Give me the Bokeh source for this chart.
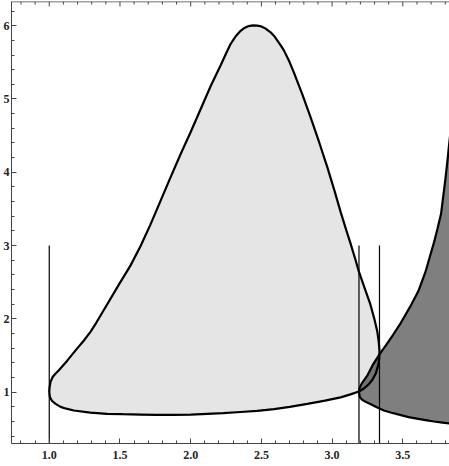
import numpy as np
from bokeh.plotting import figure
from bokeh.models import FixedTicker, PrintfTickFormatter, Span
from bokeh.embed import file_html
from bokeh.resources import INLINE

# Light region (closed curve, clockwise from left tip)
light_x = [1.000, 1.002, 1.009, 1.025, 1.045, 1.068, 1.127, 1.186, 1.245, 1.29, 1.33, 1.37,
           1.41, 1.49, 1.575,
           1.645, 1.716, 1.78, 1.846, 1.929, 2.00, 2.07, 2.14, 2.212, 2.25, 2.282, 2.32,
           2.353, 2.38, 2.41, 2.44, 2.47, 2.50, 2.53, 2.565, 2.59, 2.612, 2.64, 2.66,
           2.70, 2.73, 2.79, 2.848, 2.91, 2.966, 3.015, 3.06, 3.10, 3.13, 3.16, 3.19,
           3.23, 3.27, 3.30, 3.32, 3.330, 3.335, 3.333, 3.327, 3.31, 3.285, 3.26, 3.225,
           3.19, 3.13, 3.06, 2.95, 2.825, 2.70, 2.59, 2.47, 2.353, 2.23, 2.117, 2.00,
           1.88, 1.76, 1.646, 1.52, 1.41, 1.29, 1.174, 1.12, 1.08, 1.045, 1.02, 1.005, 1.000]
light_y = [1.00, 1.06, 1.14, 1.21, 1.255, 1.30, 1.43, 1.57, 1.705, 1.82, 1.94, 2.07,
           2.20, 2.46, 2.73,
           2.99, 3.29, 3.58, 3.88, 4.25, 4.55, 4.86, 5.17, 5.46, 5.62, 5.75, 5.86,
           5.93, 5.97, 5.995, 6.005, 6.00, 5.99, 5.96, 5.91, 5.86, 5.80, 5.72, 5.66,
           5.50, 5.36, 5.06, 4.75, 4.40, 4.07, 3.76, 3.46, 3.21, 3.03, 2.84, 2.64,
           2.42, 2.20, 1.99, 1.82, 1.68, 1.56, 1.46, 1.38, 1.26, 1.17, 1.11, 1.05,
           1.01, 0.97, 0.93, 0.885, 0.84, 0.80, 0.77, 0.745, 0.73, 0.715, 0.705, 0.695,
           0.69, 0.69, 0.695, 0.70, 0.705, 0.72, 0.75, 0.775, 0.80, 0.84, 0.88, 0.93, 1.00]

# Dark region: upper branch (from right edge down to tip) then lower branch
dark_upper_x = [3.84, 3.83, 3.815, 3.80, 3.785, 3.77, 3.745, 3.72, 3.69, 3.66, 3.61, 3.55,
                3.484, 3.43, 3.38, 3.336, 3.29, 3.25, 3.21, 3.195, 3.19]
dark_upper_y = [4.60, 4.43, 4.15, 3.89, 3.66, 3.43, 3.23, 3.04, 2.84, 2.64, 2.38, 2.16,
                1.94, 1.78, 1.64, 1.52, 1.38, 1.23, 1.12, 1.06, 1.00]
dark_lower_x = [3.19, 3.195, 3.21, 3.24, 3.27, 3.32, 3.366, 3.42, 3.48, 3.54, 3.60, 3.66,
                3.72, 3.78, 3.84]
dark_lower_y = [1.00, 0.94, 0.90, 0.865, 0.84, 0.79, 0.75, 0.72, 0.69, 0.66, 0.64, 0.62,
                0.60, 0.585, 0.57]

# Vertical reference lines
vline_x = [1.0, 3.19, 3.335]
vline_top = [3.0, 3.0, 3.0]
vline_bottom = [0.0, 0.0, 0.0]

x_major = [1.0, 1.5, 2.0, 2.5, 3.0, 3.5]
x_minor = [round(0.7 + 0.1 * i, 1) for i in range(33)]
y_major = [1, 2, 3, 4, 5, 6]
y_minor = [round(0.2 * i, 1) for i in range(1, 33)]

X0, X1 = 0.733, 3.83
Y0, Y1 = 0.30, 6.33

p = figure(width=449, height=466, x_range=(X0, X1), y_range=(Y0, Y1),
           output_backend="svg", toolbar_location=None,
           min_border_left=0, min_border_right=0, min_border_top=1, min_border_bottom=23)
p.outline_line_color = None
p.xgrid.visible = False
p.ygrid.visible = False
p.background_fill_color = "white"

p.patch(light_x, light_y, fill_color="#e5e5e5", line_color=None)
p.line(light_x, light_y, line_color="black", line_width=2.2)

dark_x = dark_upper_x + dark_lower_x[1:]
dark_y = dark_upper_y + dark_lower_y[1:]
p.patch(dark_x, dark_y, fill_color="black", fill_alpha=0.5, line_color=None)
p.line(dark_x, dark_y, line_color="black", line_width=2.2)

p.segment(x0=vline_x, y0=vline_bottom, x1=vline_x, y1=vline_top,
          line_color="black", line_width=1.2)

# top frame with inward ticks
p.add_layout(Span(location=Y1, dimension="width", line_color="#444444", line_width=1.5))
top_major = [t for t in x_major]
top_minor = [t for t in x_minor if X0 <= t <= X1 and t not in x_major]
p.ray(x=top_major, y=[Y1] * len(top_major), length=5, length_units="screen",
      angle=-np.pi / 2, line_color="#444444", line_width=1)
p.ray(x=top_minor, y=[Y1] * len(top_minor), length=3, length_units="screen",
      angle=-np.pi / 2, line_color="#444444", line_width=1)

def style(ax, ticks, minors):
    ax.ticker = FixedTicker(ticks=ticks, minor_ticks=minors)
    ax.axis_line_color = "#444444"
    ax.axis_line_width = 1
    ax.major_tick_in = 5
    ax.major_tick_out = 0
    ax.minor_tick_in = 3
    ax.minor_tick_out = 0
    ax.major_tick_line_color = "#444444"
    ax.minor_tick_line_color = "#444444"
    ax.major_label_text_font = "Liberation Serif"
    ax.major_label_text_font_size = "12px"
    ax.major_label_text_font_style = "bold"
    ax.major_label_text_color = "#222222"
    ax.major_label_standoff = 2

style(p.xaxis[0], x_major, x_minor)
style(p.yaxis[0], y_major, y_minor)
p.xaxis[0].formatter = PrintfTickFormatter(format="%.1f")
p.xaxis[0].major_label_standoff = 7

open("out.html", "w").write(file_html(p, INLINE))
